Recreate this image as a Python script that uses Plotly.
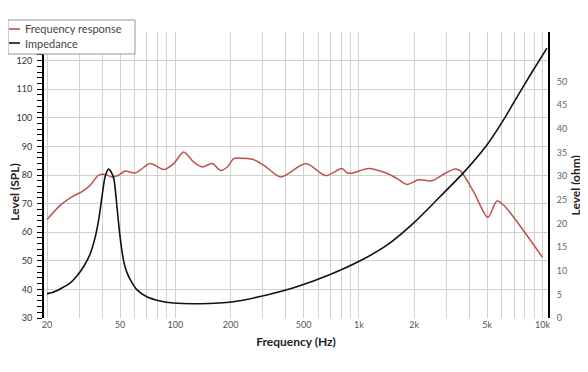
import plotly.graph_objects as go

# Frequency response (SPL, dB)
fr_freq = [20, 23.6, 27.8, 30.9, 34.4, 38.1, 41.5, 45.1, 49.1, 53.3, 60.5, 73.1, 86.4,
           98, 111, 126, 140, 159, 176, 192, 208, 227, 263, 304, 375, 514, 660, 807,
           860, 916, 1127, 1420, 1610, 1824, 2110, 2498, 2952, 3346, 3562, 4210,
           5043, 5646, 6134, 10000]
fr_db = [64.4, 69.4, 72.6, 74.1, 76.4, 79.9, 80.2, 79.3, 79.9, 81.4, 80.7, 84.0, 81.9,
         84.0, 88.0, 84.5, 82.8, 84.0, 81.6, 82.8, 85.7, 85.9, 85.5, 83.4, 79.3, 84.0,
         79.8, 82.3, 80.8, 80.6, 82.3, 80.6, 78.8, 76.7, 78.3, 78.0, 80.6, 82.1, 81.5,
         74.2, 65.2, 70.9, 69.5, 51.2]

# Impedance (ohm)
imp_freq = [20, 22.1, 24.1, 26.7, 29.1, 31.8, 34.3, 36.5, 38.4, 39.9, 41.4, 43.2, 45.0,
            46.4, 48.0, 49.4, 51.1, 52.6, 54.4, 57.4, 61.7, 69.9, 82.6, 97.6, 136, 207,
            315, 459, 697, 1016, 1420, 2025, 2772, 3685, 4980, 6134, 7102, 8575, 10574]
imp_ohm = [5.1, 5.6, 6.35, 7.4, 8.9, 11.0, 13.5, 16.9, 21.2, 25.8, 29.8, 31.5, 30.7,
           29.2, 23.9, 19.0, 14.4, 11.6, 9.7, 7.8, 6.0, 4.5, 3.6, 3.17, 3.03, 3.45,
           4.87, 6.6, 9.2, 12.1, 15.4, 20.4, 25.7, 30.6, 36.6, 41.9, 46.1, 51.4, 57.1]

series_names = ["Frequency response", "Impedance"]
series_colors = ["#c0504d", "#111111"]

x_tickvals = [20, 30, 40, 50, 60, 70, 80, 90, 100, 200, 300, 400, 500, 600, 700, 800,
              900, 1000, 2000, 3000, 4000, 5000, 6000, 7000, 8000, 9000, 10000]
x_labels = {20: "20", 50: "50", 100: "100", 200: "200", 500: "500", 1000: "1k",
            2000: "2k", 5000: "5k", 10000: "10k"}
x_ticktext = [x_labels.get(v, "") for v in x_tickvals]

spl_tickvals = [30, 40, 50, 60, 70, 80, 90, 100, 110, 120, 130]
spl_ticktext = ["30", "40", "50", "60", "70", "80", "90", "100", "110", "120", ""]
ohm_tickvals = [0, 5, 10, 15, 20, 25, 30, 35, 40, 45, 50]

FONT = "Lato"

fig = go.Figure()
fig.add_trace(go.Scatter(x=fr_freq, y=fr_db, mode="lines", name=series_names[0],
                         line=dict(color=series_colors[0], width=1.5, shape="spline",
                                   smoothing=0.8),
                         yaxis="y", showlegend=False))
fig.add_trace(go.Scatter(x=imp_freq, y=imp_ohm, mode="lines", name=series_names[1],
                         line=dict(color=series_colors[1], width=1.6, shape="spline",
                                   smoothing=0.6),
                         yaxis="y2", showlegend=False))

# Legend box drawn in paper coordinates (top-left, partly above the plot area)
shapes = [dict(type="rect", xref="paper", yref="paper", x0=-0.0714, x1=0.1806,
               y0=0.9231, y1=1.042, line=dict(color="#999", width=1),
               fillcolor="white", layer="above")]
annotations = []
legend_rows = [1.0105, 0.9615]
for name, color, yy in zip(series_names, series_colors, legend_rows):
    shapes.append(dict(type="line", xref="paper", yref="paper", x0=-0.0694, x1=-0.0476,
                       y0=yy, y1=yy, line=dict(color=color, width=1.6), layer="above"))
    annotations.append(dict(text=name, xref="paper", yref="paper", x=-0.0417, y=yy,
                            xanchor="left", yanchor="middle", showarrow=False,
                            font=dict(size=11, color="#444", family=FONT)))

annotations.append(dict(text="<b>Level (SPL)</b>", xref="paper", yref="paper",
                        x=-0.0585, y=0.44, textangle=-90, showarrow=False,
                        xanchor="center", yanchor="middle", borderpad=0,
                        font=dict(size=12, color="#222", family=FONT)))
annotations.append(dict(text="<b>Level (ohm)</b>", xref="paper", yref="paper",
                        x=1.0545, y=0.465, textangle=-90, showarrow=False,
                        xanchor="center", yanchor="middle", borderpad=0,
                        font=dict(size=12, color="#222", family=FONT)))

fig.update_layout(
    width=580, height=364,
    margin=dict(l=36, r=40, t=24, b=54, autoexpand=False),
    paper_bgcolor="white", plot_bgcolor="white",
    font=dict(family=FONT, color="#444"),
    showlegend=False,
    shapes=shapes, annotations=annotations,
    xaxis=dict(type="log", range=[1.2847, 4.03], tickmode="array",
               tickvals=x_tickvals, ticktext=x_ticktext,
               showgrid=True, gridcolor="#d0d0d0", gridwidth=1,
               showline=False, zeroline=False, ticks="", automargin=False,
               tickfont=dict(size=9, color="#555", family=FONT),
               title=dict(text="<b>Frequency (Hz)</b>", standoff=8,
                          font=dict(size=12, color="#222", family=FONT))),
    yaxis=dict(range=[30, 130], tickmode="array", tickvals=spl_tickvals,
               ticktext=spl_ticktext, showgrid=True, gridcolor="#d0d0d0", gridwidth=1,
               showline=True, linecolor="black", linewidth=2, zeroline=False,
               ticks="outside", ticklen=5, tickwidth=1, tickcolor="black",
               ticklabelstandoff=3, automargin=False,
               minor=dict(dtick=2, tick0=30, ticks="outside", ticklen=5,
                          tickwidth=1, tickcolor="black", showgrid=False),
               tickfont=dict(size=9, color="#333", family=FONT)),
    yaxis2=dict(overlaying="y", side="right", range=[0, 60.5], tickmode="array",
                tickvals=ohm_tickvals, showgrid=False, zeroline=False,
                showline=True, linecolor="black", linewidth=2, automargin=False,
                ticks="outside", ticklen=5, tickcolor="rgba(0,0,0,0)",
                tickfont=dict(size=9, color="#666", family=FONT)),
)

fig.write_html("out.html")
